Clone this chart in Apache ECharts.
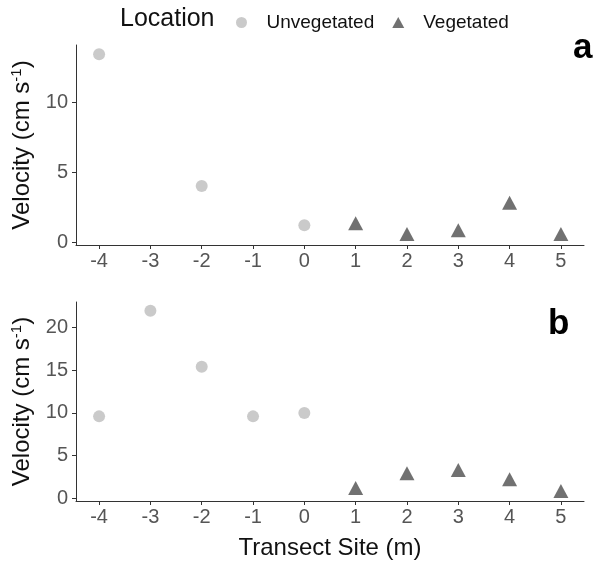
<!DOCTYPE html>
<html>
<head>
<meta charset="utf-8">
<script src="https://cdn.jsdelivr.net/npm/echarts@6/dist/echarts.min.js"></script>
<style>html,body{margin:0;padding:0;background:#fff}#c{width:610px;height:566px}</style>
</head>
<body>
<div id="c"></div>
<script>
// Data
const xTicks = [-4, -3, -2, -1, 0, 1, 2, 3, 4, 5];
const yTicksA = [0, 5, 10];
const yTicksB = [0, 5, 10, 15, 20];
const unvegSitesA = [-4, -2, 0];
const unvegValuesA = [13.4, 4.03, 1.23];
const vegSitesA = [1, 2, 3, 4, 5];
const vegValuesA = [1.37, 0.62, 0.88, 2.83, 0.62];
const unvegSitesB = [-4, -3, -2, -1, 0];
const unvegValuesB = [9.58, 21.96, 15.4, 9.58, 9.98];
const vegSitesB = [1, 2, 3, 4, 5];
const vegValuesB = [1.18, 2.9, 3.3, 2.2, 0.82];

const pair = (xs, ys) => xs.map((x, i) => [x, ys[i]]);

const FONT = '"Liberation Sans", Arial, sans-serif';
const LIGHT = '#bdbdbd';
const DARK = '#4d4d4d';

function xAxis(gridIndex) {
  return {
    type: 'value', gridIndex, min: -4.45, max: 5.45,
    axisLine: {show: true, onZero: false, lineStyle: {color: '#333', width: 1}},
    axisTick: {show: true, length: 4, customValues: xTicks, lineStyle: {color: '#333'}},
    axisLabel: {customValues: xTicks, margin: 6, color: '#555', fontSize: 20, fontFamily: FONT},
    splitLine: {show: false}
  };
}
function yAxis(gridIndex, min, max, ticks) {
  return {
    type: 'value', gridIndex, min, max,
    name: 'Velocity (cm s{sup|-1})',
    nameLocation: 'middle', nameRotate: 90, nameGap: 41,
    nameTextStyle: {
      color: '#111', fontSize: 24, fontFamily: FONT,
      rich: {sup: {fontSize: 15, fontFamily: FONT, color: '#111', verticalAlign: 'top', padding: [0, 0, 11, 0]}}
    },
    axisLine: {show: true, onZero: false, lineStyle: {color: '#333', width: 1}},
    axisTick: {show: true, length: 4, customValues: ticks, lineStyle: {color: '#333'}},
    axisLabel: {customValues: ticks, margin: 8, color: '#555', fontSize: 20, fontFamily: FONT},
    splitLine: {show: false}
  };
}

const chart = echarts.init(document.getElementById('c'), null, {renderer: 'canvas'});
chart.setOption({
  animation: false,
  backgroundColor: '#fff',
  title: {
    text: 'Location', left: 115, top: 2,
    textStyle: {fontSize: 25, fontWeight: 'normal', color: '#111', fontFamily: FONT}
  },
  legend: {
    left: 231, top: 8, itemWidth: 12, itemHeight: 11, itemGap: 18,
    textStyle: {fontSize: 19, color: '#111', fontFamily: FONT, padding: [0, 0, 0, 14]},
    data: [
      {name: 'Unvegetated', icon: 'circle'},
      {name: 'Vegetated', icon: 'triangle'}
    ]
  },
  graphic: [
    {type: 'text', left: 573, top: 31, style: {text: 'a', font: 'bold 35px ' + FONT, fill: '#000'}},
    {type: 'text', left: 548, top: 307, style: {text: 'b', font: 'bold 35px ' + FONT, fill: '#000'}}
  ],
  grid: [
    {left: 76, top: 45, width: 508, height: 200},
    {left: 76, top: 302, width: 508, height: 199}
  ],
  xAxis: [
    xAxis(0),
    Object.assign(xAxis(1), {
      name: 'Transect Site (m)', nameLocation: 'middle', nameGap: 35,
      nameTextStyle: {color: '#111', fontSize: 24, fontFamily: FONT}
    })
  ],
  yAxis: [
    yAxis(0, -0.17, 14.06, yTicksA),
    yAxis(1, -0.35, 23.0, yTicksB)
  ],
  series: [
    {name: 'Unvegetated', type: 'scatter', xAxisIndex: 0, yAxisIndex: 0, symbol: 'circle', symbolSize: 12,
      itemStyle: {color: LIGHT}, data: pair(unvegSitesA, unvegValuesA)},
    {name: 'Vegetated', type: 'scatter', xAxisIndex: 0, yAxisIndex: 0, symbol: 'triangle', symbolSize: [15, 14],
      itemStyle: {color: DARK}, data: pair(vegSitesA, vegValuesA)},
    {name: 'Unvegetated', type: 'scatter', xAxisIndex: 1, yAxisIndex: 1, symbol: 'circle', symbolSize: 12,
      itemStyle: {color: LIGHT}, data: pair(unvegSitesB, unvegValuesB)},
    {name: 'Vegetated', type: 'scatter', xAxisIndex: 1, yAxisIndex: 1, symbol: 'triangle', symbolSize: [15, 14],
      itemStyle: {color: DARK}, data: pair(vegSitesB, vegValuesB)}
  ]
});
</script>
</body>
</html>
